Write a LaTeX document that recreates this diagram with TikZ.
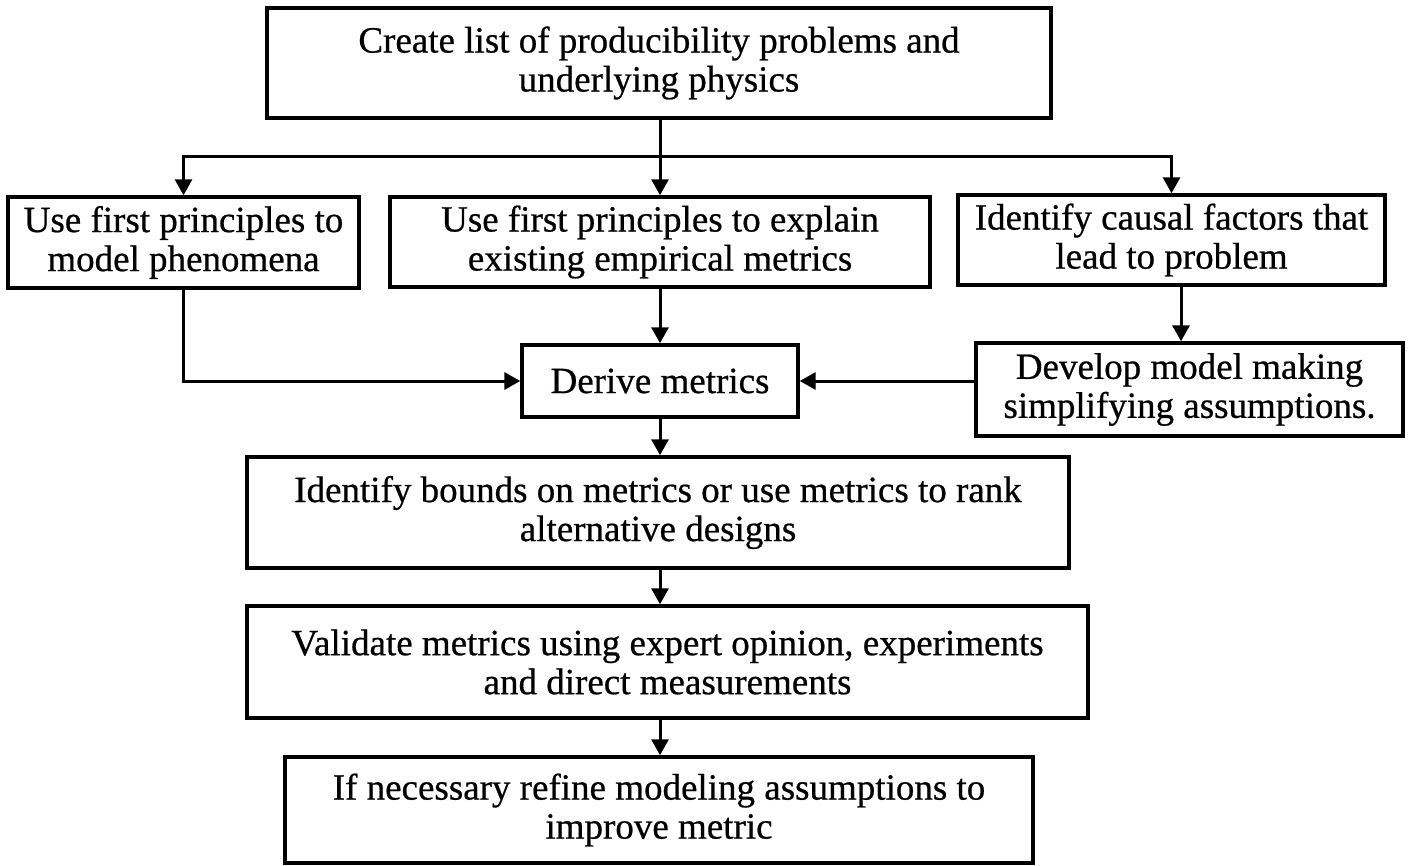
\documentclass[tikz,border=0pt]{standalone}
\usepackage{fontspec}
\setmainfont{Liberation Serif}[FakeBold=0.6]
\usetikzlibrary{arrows.meta}
\begin{document}
\begin{tikzpicture}[x=1pt,y=-1pt,
  box/.style={draw,line width=3.4pt,align=center,inner sep=0pt,
    font=\fontsize{37}{39}\selectfont},
  link/.style={line width=3pt,-{Triangle[length=16pt,width=17pt]}},
  plain/.style={line width=3pt}]
\useasboundingbox (0,0) rectangle (1410,866);

% boxes
\node[box,minimum width=784pt,minimum height=110pt] (list) at (659,63)
  {Create list of producibility problems and\\underlying physics};
\node[box,minimum width=351pt,minimum height=91pt] (first) at (183.5,242.5)
  {Use first principles to\\model phenomena};
\node[box,minimum width=540pt,minimum height=90pt] (second) at (660,242)
  {Use first principles to explain\\existing empirical metrics};
\node[box,minimum width=427pt,minimum height=90pt] (third) at (1171.5,240)
  {Identify causal factors that\\lead to problem};
\node[box,minimum width=276pt,minimum height=72pt] (derive) at (660,381)
  {Derive metrics};
\node[box,minimum width=427pt,minimum height=93pt] (develop) at (1189.5,389.5)
  {Develop model making\\simplifying assumptions.};
\node[box,minimum width=822pt,minimum height=111pt] (bounds) at (658,512.5)
  {Identify bounds on metrics or use metrics to rank\\alternative designs};
\node[box,minimum width=841pt,minimum height=112pt] (validate) at (667.5,662)
  {Validate metrics using expert opinion, experiments\\and direct measurements};
\node[box,minimum width=748pt,minimum height=106pt] (refine) at (659,810)
  {If necessary refine modeling assumptions to\\improve metric};

% helper points
\coordinate (split) at (660,157);
\coordinate (spine) at (660,0);
\coordinate (rdrop) at (1181,0);

% connectors
\draw[plain] (list.south -| spine) -- (split);
\draw[link] (split) -| (first.north);
\draw[link] (split) -| (third.north);
\draw[link] (split) -- (second.north -| spine);
\draw[link] (first.south) |- (derive.west);
\draw[link] (second.south -| spine) -- (derive.north -| spine);
\draw[link] (third.south -| rdrop) -- (develop.north -| rdrop);
\draw[link] (develop.west |- derive.east) -- (derive.east);
\draw[link] (derive.south -| spine) -- (bounds.north -| spine);
\draw[link] (bounds.south -| spine) -- (validate.north -| spine);
\draw[link] (validate.south -| spine) -- (refine.north -| spine);
\end{tikzpicture}
\end{document}
